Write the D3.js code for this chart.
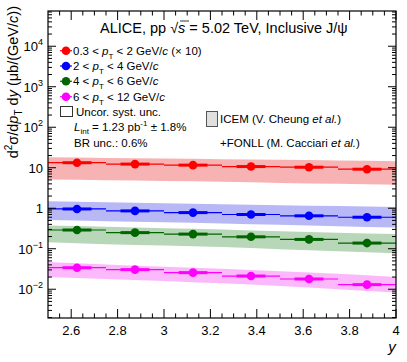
<!DOCTYPE html>
<html>
<head>
<meta charset="utf-8">
<script src="https://cdn.jsdelivr.net/npm/d3@7"></script>
<style>
  body { margin: 0; background: #fff; }
  text { font-family: "Liberation Sans", Arial, sans-serif; fill: #000; }
</style>
</head>
<body>
<div id="chart-area"></div>
<script>
// rapidity bins
var binLow = [2.5, 2.75, 3.0, 3.25, 3.5, 3.75];
var binHigh = [2.75, 3.0, 3.25, 3.5, 3.75, 4.0];
var binCenter = [2.625, 2.875, 3.125, 3.375, 3.625, 3.875];

// measured cross sections per pT interval
var seriesNames = ["pt1", "pt2", "pt3", "pt4"];
var pt1Values = [13.3, 12.3, 11.6, 10.7, 10.3, 9.2];      // x 10
var pt2Values = [0.96, 0.86, 0.78, 0.70, 0.65, 0.60];
var pt3Values = [0.29, 0.25, 0.23, 0.197, 0.17, 0.138];
var pt4Values = [0.034, 0.0305, 0.0257, 0.0212, 0.0179, 0.013];

// ICEM + FONLL model bands
var bandY = [2.5, 2.75, 3.0, 3.25, 3.5, 3.75, 4.0];
var pt1BandHigh = [18.2, 17.5, 16.9, 16.3, 15.7, 15.1, 14.5];
var pt1BandLow = [5.1, 4.9, 4.7, 4.5, 4.2, 4.0, 3.8];
var pt2BandHigh = [1.49, 1.40, 1.32, 1.25, 1.18, 1.13, 1.08];
var pt2BandLow = [0.51, 0.48, 0.45, 0.42, 0.39, 0.36, 0.335];
var pt3BandHigh = [0.376, 0.35, 0.32, 0.30, 0.27, 0.25, 0.23];
var pt3BandLow = [0.144, 0.13, 0.12, 0.11, 0.097, 0.087, 0.077];
var pt4BandHigh = [0.047, 0.041, 0.036, 0.032, 0.028, 0.024, 0.020];
var pt4BandLow = [0.020, 0.018, 0.016, 0.014, 0.012, 0.010, 0.0083];

var xTicks = [2.6, 2.8, 3.0, 3.2, 3.4, 3.6, 3.8, 4.0];
var xTickLabels = ["2.6", "2.8", "3", "3.2", "3.4", "3.6", "3.8", "4"];
var yTicks = [0.01, 0.1, 1, 10, 100, 1000, 10000];

var series = [
    { values: pt1Values, high: pt1BandHigh, low: pt1BandLow, color: "#ff0000", band: "#f7b3b3" },
    { values: pt2Values, high: pt2BandHigh, low: pt2BandLow, color: "#0000ff", band: "#b8b8f7" },
    { values: pt3Values, high: pt3BandHigh, low: pt3BandLow, color: "#006600", band: "#b8d6b8" },
    { values: pt4Values, high: pt4BandHigh, low: pt4BandLow, color: "#ff00ff", band: "#fbb8fb" }
];

var margin = { left: 48, right: 11, top: 11, bottom: 44 };
var width = 407 - margin.left - margin.right,
    height = 362 - margin.top - margin.bottom;

var svg = d3.select("#chart-area")
    .append("svg")
        .attr("width", 407)
        .attr("height", 362);

var g = svg.append("g")
    .attr("transform", "translate(" + margin.left + ", " + margin.top + ")");

// X Scale
var x = d3.scaleLinear()
    .domain([2.5, 4.0])
    .range([0, width]);

// Y Scale (log)
var y = d3.scaleLog()
    .domain([Math.pow(10, -2.71), Math.pow(10, 4.87)])
    .range([height, 0]);

// bands
var area = d3.area()
    .x(function(d){ return x(d.y); })
    .y0(function(d){ return y(d.lo); })
    .y1(function(d){ return y(d.hi); })
    .curve(d3.curveMonotoneX);

series.forEach(function(s) {
    var pts = bandY.map(function(v, i){ return { y: v, lo: s.low[i], hi: s.high[i] }; });
    g.append("path")
        .datum(pts)
        .attr("d", area)
        .attr("fill", s.band);
});

// data points
series.forEach(function(s) {
    var grp = g.append("g");
    s.values.forEach(function(v, i) {
        grp.append("line")
            .attr("x1", x(binLow[i])).attr("x2", x(binHigh[i]))
            .attr("y1", y(v)).attr("y2", y(v))
            .attr("stroke", s.color).attr("stroke-width", 1.2);
        grp.append("rect")
            .attr("x", x(binCenter[i] - 0.0625))
            .attr("width", x(binCenter[i] + 0.0625) - x(binCenter[i] - 0.0625))
            .attr("y", y(v) - 1.5)
            .attr("height", 3)
            .attr("fill", s.color);
        grp.append("circle")
            .attr("cx", x(binCenter[i])).attr("cy", y(v))
            .attr("r", 4.3)
            .attr("fill", s.color);
    });
});

// frame
g.append("rect")
    .attr("width", width).attr("height", height)
    .attr("fill", "none").attr("stroke", "#000").attr("stroke-width", 1.2);

// x ticks (inside, bottom and top)
var xMinor = d3.range(2.55, 4.0, 0.05).filter(function(v){
    return Math.abs(Math.round(v * 5) - v * 5) > 0.01;
});
var tickG = g.append("g").attr("stroke", "#000").attr("stroke-width", 1);
xTicks.forEach(function(v) {
    tickG.append("line").attr("x1", x(v)).attr("x2", x(v)).attr("y1", height).attr("y2", height - 9);
    tickG.append("line").attr("x1", x(v)).attr("x2", x(v)).attr("y1", 0).attr("y2", 9);
});
xMinor.forEach(function(v) {
    tickG.append("line").attr("x1", x(v)).attr("x2", x(v)).attr("y1", height).attr("y2", height - 4.5);
    tickG.append("line").attr("x1", x(v)).attr("x2", x(v)).attr("y1", 0).attr("y2", 4.5);
});

// y ticks (log, left and right)
var yMinor = [];
for (var e = -3; e <= 4; e++) {
    for (var m = 2; m <= 9; m++) {
        var val = m * Math.pow(10, e);
        if (val > y.domain()[0] && val < y.domain()[1]) yMinor.push(val);
    }
}
yTicks.forEach(function(v) {
    tickG.append("line").attr("x1", 0).attr("x2", 8).attr("y1", y(v)).attr("y2", y(v));
    tickG.append("line").attr("x1", width).attr("x2", width - 8).attr("y1", y(v)).attr("y2", y(v));
});
yMinor.forEach(function(v) {
    tickG.append("line").attr("x1", 0).attr("x2", 4).attr("y1", y(v)).attr("y2", y(v));
    tickG.append("line").attr("x1", width).attr("x2", width - 4).attr("y1", y(v)).attr("y2", y(v));
});

// x tick labels
xTicks.forEach(function(v, i) {
    g.append("text")
        .attr("x", x(v)).attr("y", height + 17)
        .attr("text-anchor", "middle")
        .attr("font-size", "13px")
        .text(xTickLabels[i]);
});

// y tick labels
yTicks.forEach(function(v) {
    var e = Math.round(Math.log10(v));
    var t = g.append("text")
        .attr("x", -5).attr("y", y(v) + 5)
        .attr("text-anchor", "end")
        .attr("font-size", "13px");
    if (e === 0) t.text("1");
    else if (e === 1) t.text("10");
    else {
        t.append("tspan").text("10");
        t.append("tspan").attr("dy", -6).attr("font-size", "9px").text(e < 0 ? "\u2212" + (-e) : e);
    }
});

// axis titles
svg.append("text")
    .attr("x", 392).attr("y", 352)
    .attr("font-size", "15px").attr("font-style", "italic")
    .attr("text-anchor", "middle")
    .text("y");

var yl = svg.append("text")
    .attr("transform", "translate(18, 6) rotate(-90)")
    .attr("text-anchor", "end")
    .attr("font-size", "14.5px");
yl.append("tspan").text("d");
yl.append("tspan").attr("dy", -6).attr("font-size", "10px").text("2");
yl.append("tspan").attr("dy", 6).text("\u03c3/d");
yl.append("tspan").attr("font-style", "italic").text("p");
yl.append("tspan").attr("dy", 4).attr("font-size", "10px").text("T");
yl.append("tspan").attr("dy", -4).text(" d");
yl.append("tspan").attr("font-style", "italic").text("y");
yl.append("tspan").text(" (\u03bcb/(GeV/");
yl.append("tspan").attr("font-style", "italic").text("c");
yl.append("tspan").text("))");

// title
var title = svg.append("text")
    .attr("x", 100).attr("y", 33)
    .attr("font-size", "14.5px");
title.append("tspan").text("ALICE, pp ");
title.append("tspan").text("\u221a");
title.append("tspan").attr("font-style", "italic").text("s");
title.append("tspan").text(" = 5.02 TeV, Inclusive J/\u03c8");
svg.append("line")
    .attr("x1", 180).attr("x2", 189).attr("y1", 21).attr("y2", 21)
    .attr("stroke", "#000").attr("stroke-width", 0.8);

// legend
var legendLabels = [
    ["0.3 < ", " < 2 GeV/", " (\u00d7 10)"],
    ["2 < ", " < 4 GeV/", ""],
    ["4 < ", " < 6 GeV/", ""],
    ["6 < ", " < 12 GeV/", ""]
];
var legendY = [50.7, 66, 81.3, 96.7];
series.forEach(function(s, i) {
    var ly = legendY[i];
    svg.append("line").attr("x1", 60).attr("x2", 72).attr("y1", ly).attr("y2", ly)
        .attr("stroke", s.color).attr("stroke-width", 1.2);
    svg.append("circle").attr("cx", 66).attr("cy", ly).attr("r", 4.3).attr("fill", s.color);
    var t = svg.append("text").attr("x", 73).attr("y", ly + 4).attr("font-size", "11.5px");
    t.append("tspan").text(legendLabels[i][0]);
    t.append("tspan").attr("font-style", "italic").text("p");
    t.append("tspan").attr("dy", 4).attr("font-size", "8px").text("T");
    t.append("tspan").attr("dy", -4).text(legendLabels[i][1]);
    t.append("tspan").attr("font-style", "italic").text("c");
    t.append("tspan").text(legendLabels[i][2]);
});

svg.append("rect").attr("x", 60.5).attr("y", 106.5).attr("width", 12).attr("height", 10)
    .attr("fill", "none").attr("stroke", "#333").attr("stroke-width", 1);
svg.append("text").attr("x", 76).attr("y", 116).attr("font-size", "11.5px").text("Uncor. syst. unc.");

var lt = svg.append("text").attr("x", 74).attr("y", 131).attr("font-size", "11.5px");
lt.append("tspan").attr("font-style", "italic").text("L");
lt.append("tspan").attr("dy", 3).attr("font-size", "8px").text("int");
lt.append("tspan").attr("dy", -3).text(" = 1.23 pb");
lt.append("tspan").attr("dy", -5).attr("font-size", "8px").text("-1");
lt.append("tspan").attr("dy", 5).text(" \u00b1 1.8%");

svg.append("text").attr("x", 74).attr("y", 147).attr("font-size", "11.5px").text("BR unc.: 0.6%");

svg.append("rect").attr("x", 206.5).attr("y", 111.5).attr("width", 11).attr("height", 15)
    .attr("fill", "#e0e0e0").attr("stroke", "#555").attr("stroke-width", 1);
var ic = svg.append("text").attr("x", 220).attr("y", 123).attr("font-size", "11.5px");
ic.append("tspan").text("ICEM (V. Cheung ");
ic.append("tspan").attr("font-style", "italic").text("et al.");
ic.append("tspan").text(")");

var fo = svg.append("text").attr("x", 220).attr("y", 147).attr("font-size", "11.5px");
fo.append("tspan").text("+FONLL (M. Cacciari ");
fo.append("tspan").attr("font-style", "italic").text("et al.");
fo.append("tspan").text(")");
</script>
</body>
</html>
